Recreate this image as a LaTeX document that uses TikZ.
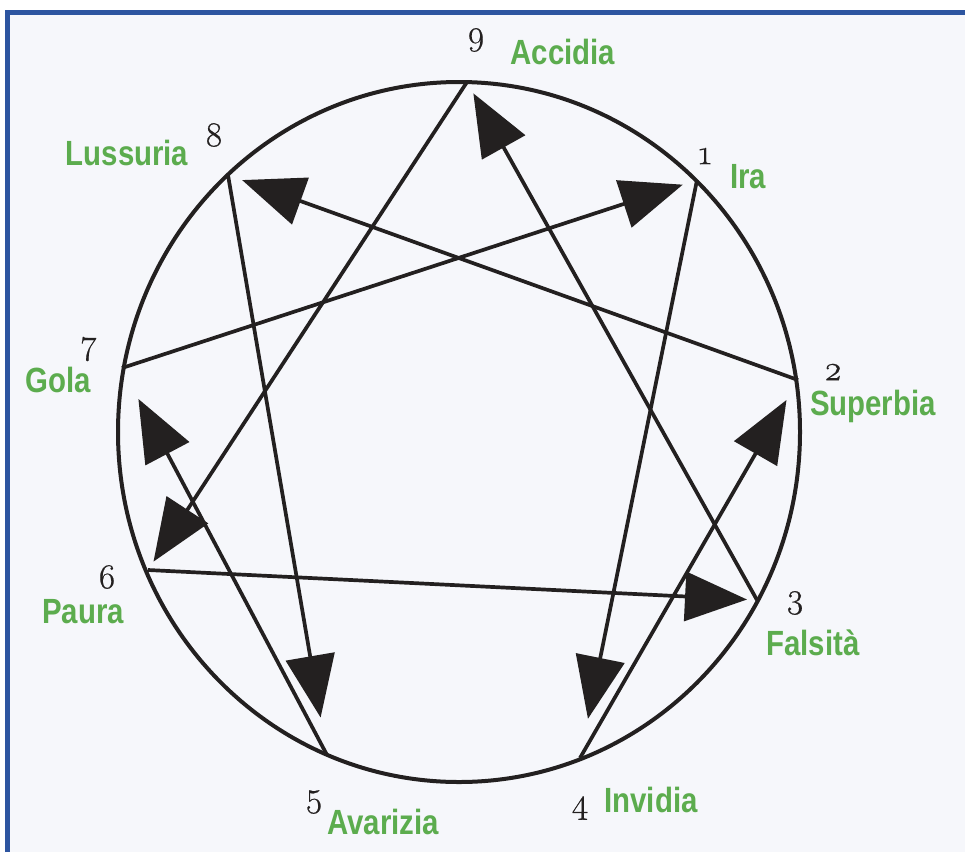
\documentclass[tikz,border=0pt]{standalone}
\usepackage{fontspec}
\setmainfont{Liberation Serif}
\newfontfamily\labelfont[FakeStretch=0.84]{Liberation Sans}
\newfontfamily\numfont[Numbers=OldStyle,FakeBold=0.6]{Latin Modern Roman}
\usetikzlibrary{arrows.meta}
\definecolor{lblgreen}{RGB}{92,172,78}
\definecolor{framebl}{RGB}{45,85,160}
\definecolor{paper}{RGB}{246,247,251}
\definecolor{ink}{RGB}{35,32,32}
\begin{document}
\begin{tikzpicture}[x=1pt,y=-1pt,
  edge/.style={line width=3.7pt, draw=ink, -{Triangle[length=62pt,width=49pt]}},
  numlbl/.style={font=\numfont\fontsize{35}{35}\selectfont, text=ink, inner sep=0pt},
  sinlbl/.style={font=\labelfont\bfseries\fontsize{35}{35}\selectfont, text=lblgreen, inner sep=0pt}]
\useasboundingbox (0,0) rectangle (965,852);
\fill[white] (0,0) rectangle (965,852);
\fill[paper] (7.5,12.5) rectangle (965,852);
\draw[framebl, line width=5pt] (7.5,852) -- (7.5,12.5) -- (965,12.5);
\draw[ink, line width=4pt] (459,432) ellipse [x radius=341pt, y radius=350pt];
\coordinate (v9) at (467,82);
\coordinate (v1) at (697,180);
\coordinate (v2) at (798,380);
\coordinate (v3) at (757,600);
\coordinate (v4) at (580,758);
\coordinate (v5) at (327,755);
\coordinate (v6) at (148,570);
\coordinate (v7) at (122,368);
\coordinate (v8) at (228,175);
\draw[edge, shorten >=10pt] (v9) -- (v6);
\draw[edge, shorten >=13pt] (v3) -- (v9);
\draw[edge, shorten >=15pt] (v7) -- (v1);
\draw[edge, shorten >=40pt] (v1) -- (v4);
\draw[edge, shorten >=15pt] (v2) -- (v8);
\draw[edge, shorten >=23pt] (v4) -- (v2);
\draw[edge, shorten >=10pt] (v6) -- (v3);
\draw[edge, shorten >=38pt] (v8) -- (v5);
\draw[edge, shorten >=35pt] (v5) -- (v7);
\node[numlbl] (n9) at (476,40) {9};
\node[sinlbl] (l9) at (563,52) {Accidia};
\node[numlbl] (n1) at (705,156) {1};
\node[sinlbl] (l1) at (748,177) {Ira};
\node[numlbl] (n2) at (833,372) {2};
\node[sinlbl] (l2) at (873,406) {Superbia};
\node[numlbl] (n3) at (795,603) {3};
\node[sinlbl] (l3) at (813,643) {Falsità};
\node[numlbl] (n4) at (580,808) {4};
\node[sinlbl] (l4) at (651,800) {Invidia};
\node[numlbl] (n5) at (314,802) {5};
\node[sinlbl] (l5) at (383,822) {Avarizia};
\node[numlbl] (n6) at (107,577) {6};
\node[sinlbl] (l6) at (83,612) {Paura};
\node[numlbl] (n7) at (89,349) {7};
\node[sinlbl] (l7) at (58,380) {Gola};
\node[numlbl] (n8) at (214,135) {8};
\node[sinlbl] (l8) at (127,153) {Lussuria};
\end{tikzpicture}
\end{document}
